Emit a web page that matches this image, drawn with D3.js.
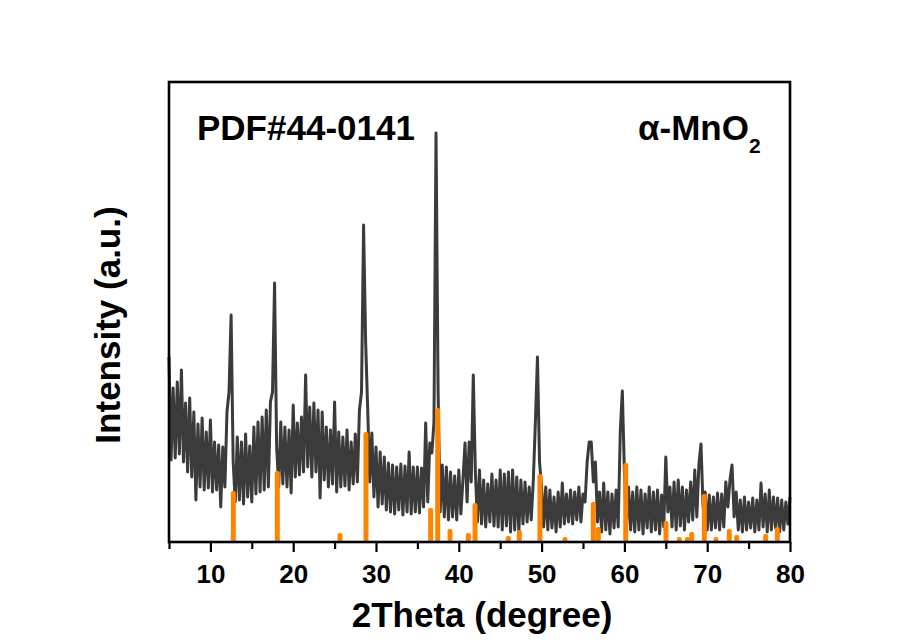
<!DOCTYPE html>
<html>
<head>
<meta charset="utf-8">
<script src="https://cdn.jsdelivr.net/npm/d3@7"></script>
<style>
  body{margin:0;background:#fff;}
  text{font-family:"Liberation Sans",Arial,sans-serif;font-weight:bold;fill:#000;}
</style>
</head>
<body>
<div id="chart"></div>
<script>
// XRD trace, 2theta 5..80 step 0.25 (a.u.)
var thetaStart = 5, thetaStep = 0.25;
var intensity = [
  185,82,154,84,   160,88,172,80,   139,70,144,65,   130,42,118,55,   // 5-8
  124,52,110,54,   122,50,100,52,   97,35,95,55,     130,150,227,80,  // 9-12
  40,105,42,100,   38,108,45,96,    40,115,48,120,   50,125,52,132,   // 13-16
  55,140,150,259,  95,55,120,58,    115,55,112,49,   137,65,119,67,   // 17-20
  125,70,167,75,   135,65,139,70,   132,44,130,62,   115,55,112,58,   // 21-24
  140,50,110,55,   105,56,112,52,   100,58,108,60,   132,150,317,200, // 25-28
  132,60,109,45,   95,35,90,38,     85,32,79,30,     77,28,75,32,     // 29-32
  78,27,76,30,     90,28,75,30,     75,29,74,35,     119,40,99,89,    // 33-36
  120,409,150,30,  77,25,75,22,     70,25,66,22,     72,28,62,99,     // 37-40
  40,100,60,167,   70,20,72,18,     62,15,58,20,     68,16,62,15,     // 41-44
  72,12,68,16,     70,10,72,12,     65,10,62,18,     60,20,55,22,     // 45-48
  62,120,185,80,   55,15,55,12,     52,14,45,10,     50,15,59,18,     // 49-52
  48,20,52,18,     50,22,55,20,     48,40,80,100,    100,60,80,20,    // 53-56
  50,10,59,12,     50,8,48,14,      52,15,110,151,   70,15,55,12,     // 57-60
  50,10,55,12,     52,8,48,14,      55,10,50,12,     52,8,47,15,      // 61-64
  85,30,55,15,     60,12,62,16,     55,12,52,20,     60,22,72,25,     // 65-68
  78,98,35,50,     12,47,12,45,     14,49,12,48,     15,60,35,62,     // 69-72
  77,25,50,12,     42,10,45,12,     40,14,44,10,     42,12,59,15,     // 73-76
  48,10,52,12,     45,14,44,10,     42,12,40,18,     45               // 77-80
];

// PDF#44-0141 reference lines
var pdfTheta = [12.77,18.08,25.65,28.79,36.6,37.45,38.94,41.15,41.96,45.98,47.31,49.8,52.83,
                56.24,56.85,60.16,65.02,66.63,67.6,68.13,69.65,71.06,72.67,73.56,77.06,78.47];
var pdfInt = [50,70,8,109,33,133,12,8,38,5,11,67,4,39,14,78,20,4,4,9,47,4,12,6,7,14];

var majorTicks = [10,20,30,40,50,60,70,80];
var minorTicks = [5,15,25,35,45,55,65,75];

var W = 899, H = 640;
var svg = d3.select("#chart").append("svg").attr("width", W).attr("height", H);

var x = d3.scaleLinear().domain([5, 80]).range([169, 790]);
var y = d3.scaleLinear().domain([0, 460]).range([542, 82]);

// trace
var pts = intensity.map(function(v, i){ return [thetaStart + i*thetaStep, v]; });
var line = d3.line().x(function(d){return x(d[0]);}).y(function(d){return y(d[1]);});
svg.append("path").datum(pts)
  .attr("d", line)
  .attr("fill", "none")
  .attr("stroke", "#3b3b3b")
  .attr("stroke-width", 3)
  .attr("stroke-linejoin", "round");

// reference bars
svg.selectAll("rect.pdf").data(pdfTheta).enter().append("rect")
  .attr("class", "pdf")
  .attr("x", function(d){return x(d) - 2.5;})
  .attr("y", function(d, i){return y(pdfInt[i]) - 1;})
  .attr("width", 5)
  .attr("height", function(d, i){return y(0) - y(pdfInt[i]) + 1;})
  .attr("rx", 2)
  .attr("fill", "#ff8500");

// frame
svg.append("rect")
  .attr("x", x(5)).attr("y", y(460))
  .attr("width", x(80) - x(5)).attr("height", y(0) - y(460))
  .attr("fill", "none").attr("stroke", "#000").attr("stroke-width", 2.6);

// bottom axis
var gx = svg.append("g").attr("transform", "translate(0," + y(0) + ")");
gx.call(d3.axisBottom(x).tickValues(majorTicks).tickSize(10).tickSizeOuter(0).tickPadding(12.5));
gx.select(".domain").remove();
gx.selectAll(".tick line").attr("stroke", "#000").attr("stroke-width", 2.2);
gx.selectAll(".tick text").style("font-size", "26px").style("font-family", "'Liberation Sans',Arial,sans-serif").style("font-weight", "bold").attr("fill", "#000");

var gm = svg.append("g").attr("transform", "translate(0," + y(0) + ")");
gm.call(d3.axisBottom(x).tickValues(minorTicks).tickSize(7).tickSizeOuter(0).tickFormat(""));
gm.select(".domain").remove();
gm.selectAll(".tick line").attr("stroke", "#000").attr("stroke-width", 2.2);

// titles
svg.append("text").attr("x", 482).attr("y", 627).attr("text-anchor", "middle")
  .style("font-size", "35px").text("2Theta (degree)");
svg.append("text").attr("transform", "translate(120,325) rotate(-90)").attr("text-anchor", "middle")
  .style("font-size", "35px").text("Intensity (a.u.)");

// annotations
svg.append("text").attr("x", 197).attr("y", 140).style("font-size", "35px").text("PDF#44-0141");
var t = svg.append("text").attr("x", 638).attr("y", 140).style("font-size", "35px");
t.append("tspan").text("α-MnO");
t.append("tspan").attr("dy", 13).style("font-size", "21px").text("2");
</script>
</body>
</html>
